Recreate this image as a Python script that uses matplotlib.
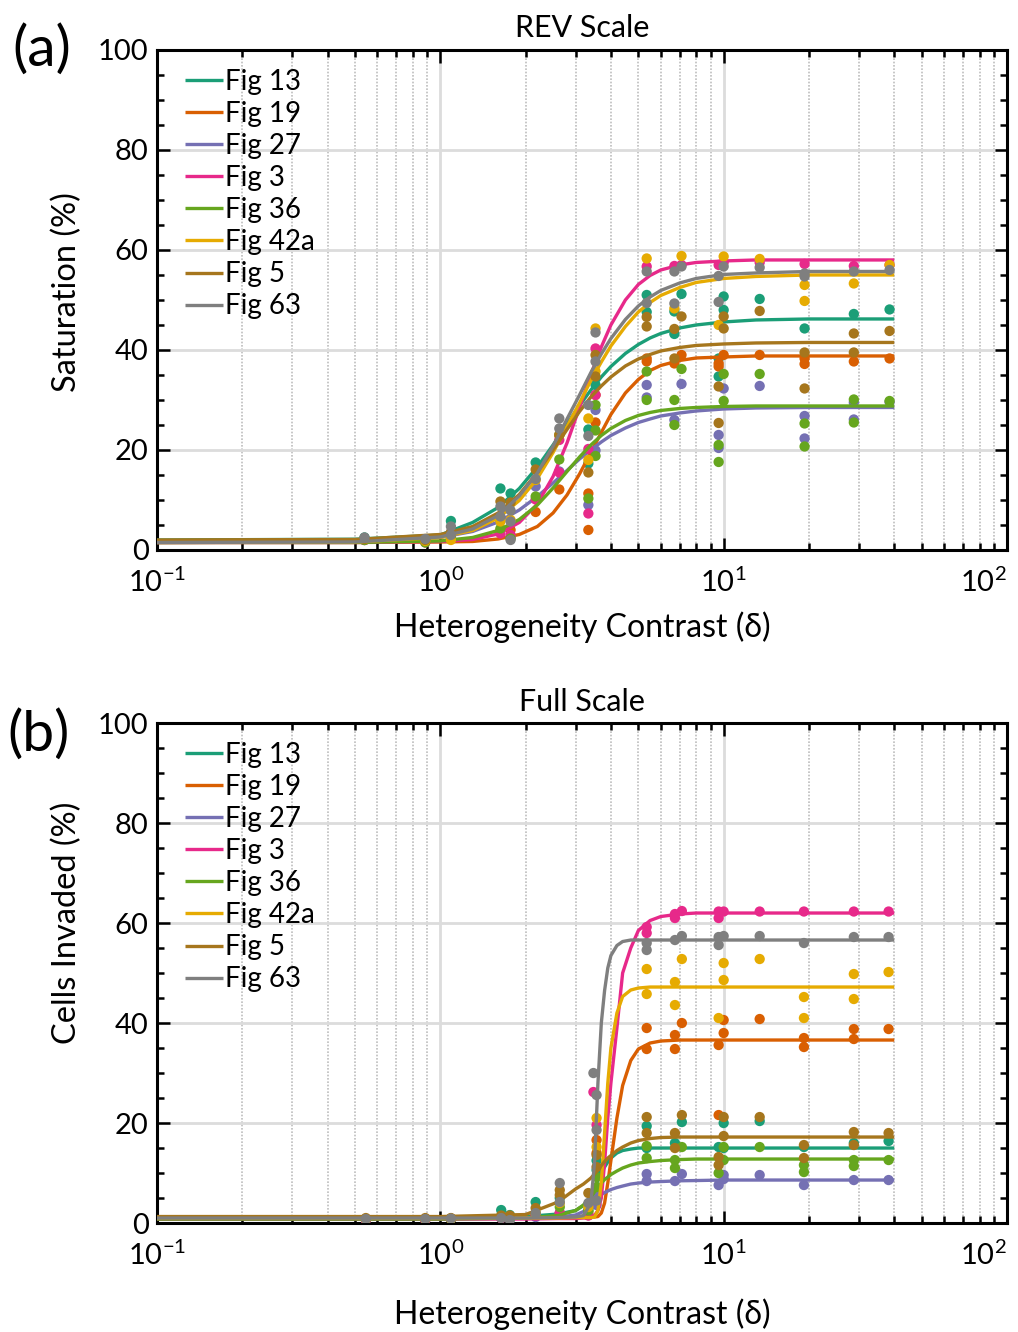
import numpy as np
import matplotlib
matplotlib.use("Agg")
import matplotlib.pyplot as plt
from matplotlib.ticker import LogLocator, MultipleLocator, NullFormatter

plt.rcParams['font.family'] = ['Lato', 'DejaVu Sans']
plt.rcParams['mathtext.default'] = 'regular'
plt.rcParams['axes.unicode_minus'] = False

LABELS = ["Fig 13", "Fig 19", "Fig 27", "Fig 3", "Fig 36", "Fig 42a", "Fig 5", "Fig 63"]
COLORS = ["#1b9e77", "#d95f02", "#7570b3", "#e7298a", "#66a61e", "#e6ab02", "#a6761d", "#7f7f7f"]

# ---- (a) REV scale: fitted curves sampled on a common delta grid ----
REV_CURVE_X = [0.1, 0.5, 1.0, 1.3, 1.6, 1.9, 2.2, 2.5, 2.8, 3.1, 3.4, 3.7, 4.0,
               4.5, 5.0, 5.5, 6.0, 7.0, 8.0, 10, 13, 20, 40]
REV_CURVES = {
    "Fig 13": [2.0, 2.15, 3.0, 5.5, 8.5, 12.3, 16.6, 21.0, 25.2, 28.9, 32.0, 34.6, 36.7,
               39.3, 41.1, 42.4, 43.3, 44.4, 45.0, 45.6, 46.0, 46.2, 46.2],
    "Fig 19": [1.5, 1.5, 1.6, 1.7, 2.2, 3.1, 4.7, 7.4, 11.0, 15.2, 19.5, 23.5, 27.1,
               31.4, 34.1, 35.9, 36.9, 37.9, 38.4, 38.6, 38.8, 38.8, 38.8],
    "Fig 27": [1.5, 1.6, 2.5, 3.7, 5.6, 8.0, 10.7, 13.4, 15.9, 18.2, 20.0, 21.6, 22.9,
               24.4, 25.5, 26.2, 26.8, 27.4, 27.8, 28.2, 28.4, 28.5, 28.5],
    "Fig 3": [1.5, 1.5, 1.7, 2.1, 3.2, 5.5, 9.2, 14.7, 21.4, 28.5, 35.1, 40.6, 45.0,
              50.0, 53.1, 54.9, 56.0, 57.0, 57.5, 57.8, 58.0, 58.0, 58.0],
    "Fig 36": [1.5, 1.5, 1.8, 2.5, 3.9, 6.1, 9.0, 12.4, 15.7, 18.6, 21.0, 22.9, 24.3,
               25.9, 26.9, 27.5, 27.9, 28.3, 28.5, 28.7, 28.8, 28.8, 28.8],
    "Fig 42a": [1.5, 1.6, 2.5, 3.9, 6.4, 9.9, 14.3, 19.5, 24.7, 29.4, 33.9, 37.6, 40.8,
                44.7, 47.6, 49.5, 50.9, 52.5, 53.5, 54.3, 54.7, 55.0, 55.0],
    "Fig 5": [2.0, 2.1, 3.1, 4.7, 7.4, 11.1, 15.5, 20.0, 24.1, 27.7, 30.6, 32.8, 34.6,
              36.8, 38.2, 39.1, 39.8, 40.5, 40.9, 41.2, 41.4, 41.5, 41.5],
    "Fig 63": [1.5, 1.6, 2.6, 4.2, 6.9, 10.8, 15.4, 20.8, 26.2, 31.0, 35.5, 39.2, 42.3,
               46.1, 48.8, 50.6, 51.9, 53.4, 54.3, 55.1, 55.4, 55.7, 55.7],
}

# ---- (a) REV scale: measured points (delta, saturation %) ----
REV_POINTS = {
    "Fig 13": [(0.54, 2.5), (0.885, 2.0), (1.09, 5.8), (1.63, 12.3), (1.77, 11.3), (2.17, 17.5),
               (2.63, 23.0), (3.33, 24.1), (3.33, 17.3), (3.53, 33.0), (5.35, 51.0), (5.35, 47.6),
               (6.7, 47.7), (6.7, 43.2), (7.1, 51.2), (9.6, 38.3), (9.6, 34.7), (10, 50.7),
               (10, 48.0), (13.4, 50.2), (19.3, 44.3), (28.8, 47.2), (38.5, 48.1)],
    "Fig 19": [(0.54, 2.0), (0.885, 1.8), (1.09, 2.2), (1.63, 4.0), (1.77, 4.0), (2.17, 7.6),
               (2.63, 12.1), (3.33, 11.3), (3.33, 4.0), (3.53, 31.0), (3.53, 25.5), (5.35, 38.3),
               (5.35, 37.7), (6.7, 37.3), (7.1, 39.0), (9.6, 37.3), (9.6, 36.7), (10, 39.0),
               (13.4, 39.0), (19.3, 38.3), (19.3, 37.2), (28.8, 37.7), (38.5, 38.3)],
    "Fig 27": [(0.54, 2.0), (0.885, 1.8), (1.09, 3.5), (1.63, 6.0), (1.77, 2.5), (2.17, 12.7),
               (2.63, 15.7), (3.33, 9.0), (3.53, 28.0), (3.53, 19.9), (5.35, 33.0), (5.35, 30.5),
               (6.7, 26.0), (7.1, 33.2), (9.6, 23.0), (9.6, 20.4), (10, 32.3), (13.4, 32.8),
               (19.3, 26.8), (19.3, 22.3), (28.8, 29.5), (28.8, 26.1), (38.5, 29.6)],
    "Fig 3": [(0.54, 2.0), (0.885, 1.5), (1.09, 2.5), (1.63, 3.3), (1.77, 3.0), (2.17, 10.1),
              (2.63, 22.0), (2.63, 15.5), (3.33, 20.2), (3.33, 7.3), (3.53, 40.3), (3.53, 31.0),
              (5.35, 56.7), (6.7, 56.8), (7.1, 57.0), (9.6, 57.0), (10, 57.5), (13.4, 57.5),
              (19.3, 57.2), (28.8, 56.8), (38.5, 57.0)],
    "Fig 36": [(0.54, 2.0), (0.885, 1.5), (1.09, 2.5), (1.63, 4.3), (1.77, 2.3), (2.17, 10.7),
               (2.63, 18.1), (3.33, 10.3), (3.53, 29.0), (3.53, 23.9), (3.53, 18.8), (5.35, 35.7),
               (5.35, 30.0), (6.7, 30.0), (6.7, 25.0), (7.1, 36.2), (9.6, 21.0), (9.6, 17.6),
               (10, 35.2), (10, 29.8), (13.4, 35.2), (19.3, 25.3), (19.3, 20.7), (28.8, 30.1),
               (28.8, 25.5), (38.5, 29.8)],
    "Fig 42a": [(0.54, 2.2), (0.885, 1.8), (1.09, 2.0), (1.63, 5.7), (1.77, 6.0), (2.17, 14.0),
                (2.63, 23.0), (3.33, 26.3), (3.33, 18.0), (3.53, 44.3), (3.53, 35.7), (5.35, 58.3),
                (6.7, 48.3), (7.1, 58.8), (9.6, 45.0), (10, 58.7), (13.4, 58.2), (19.3, 53.0),
                (19.3, 49.8), (28.8, 53.3), (38.5, 57.0)],
    "Fig 5": [(0.54, 2.2), (0.885, 2.0), (1.09, 3.5), (1.63, 9.7), (1.77, 9.5), (2.17, 16.1),
              (2.63, 23.0), (3.33, 15.5), (3.53, 39.0), (3.53, 34.7), (5.35, 46.6), (5.35, 44.7),
              (6.7, 44.2), (6.7, 38.3), (7.1, 46.7), (9.6, 32.7), (9.6, 25.4), (10, 46.7),
              (10, 44.3), (13.4, 47.8), (19.3, 39.5), (19.3, 32.3), (28.8, 43.3), (28.8, 39.5),
              (38.5, 43.8)],
    "Fig 63": [(0.54, 2.5), (0.885, 2.2), (1.09, 4.7), (1.09, 3.0), (1.63, 8.7), (1.63, 6.7),
               (1.77, 7.9), (1.77, 5.7), (1.77, 2.0), (2.17, 14.2), (2.63, 26.3), (2.63, 24.3),
               (3.33, 29.0), (3.33, 22.8), (3.53, 43.5), (3.53, 37.7), (5.35, 55.7), (5.35, 49.4),
               (6.7, 55.7), (6.7, 49.3), (7.1, 56.7), (9.6, 54.8), (9.6, 49.6), (10, 56.7),
               (13.4, 56.5), (19.3, 55.3), (19.3, 54.7), (28.8, 55.7), (38.5, 56.0)],
}

# ---- (b) Full scale: fitted curves ----
FULL_CURVE_X = [0.1, 1.0, 2.0, 2.6, 3.0, 3.2, 3.4, 3.5, 3.6, 3.7, 3.8, 3.9, 4.0,
                4.2, 4.4, 4.7, 5.0, 5.5, 6.0, 7.0, 8.0, 10, 15, 40]
FULL_CURVES = {
    "Fig 13": [1.0, 1.1, 1.3, 1.8, 2.5, 3.5, 5.5, 7.0, 8.5, 10.0, 11.2, 12.2, 13.0,
               14.0, 14.5, 14.8, 15.0, 15.0, 15.0, 15.0, 15.0, 15.0, 15.0, 15.0],
    "Fig 19": [1.0, 1.0, 1.0, 1.1, 1.1, 1.2, 1.2, 1.2, 1.3, 2.0, 4.0, 8.0, 12.5,
               21.0, 27.5, 32.5, 34.8, 36.0, 36.4, 36.6, 36.6, 36.6, 36.6, 36.6],
    "Fig 27": [0.8, 0.8, 1.0, 1.2, 1.6, 2.3, 3.6, 4.5, 5.2, 5.7, 6.1, 6.4, 6.7,
               7.1, 7.4, 7.8, 8.0, 8.2, 8.3, 8.45, 8.5, 8.6, 8.6, 8.6],
    "Fig 3": [0.8, 0.8, 0.8, 0.9, 0.9, 1.0, 1.0, 1.5, 2.5, 5.0, 12.0, 21.0, 28.0,
              39.0, 50.0, 55.0, 58.5, 60.5, 61.3, 61.8, 62.0, 62.0, 62.0, 62.0],
    "Fig 36": [0.8, 0.8, 1.0, 1.5, 2.5, 3.6, 5.2, 6.2, 7.2, 8.0, 8.7, 9.2, 9.7,
               10.4, 11.0, 11.6, 12.0, 12.3, 12.5, 12.7, 12.8, 12.8, 12.8, 12.8],
    "Fig 42a": [1.0, 1.0, 1.0, 1.0, 1.1, 1.1, 1.1, 1.2, 2.5, 8.0, 18.0, 28.0, 35.0,
                42.0, 45.3, 46.6, 47.0, 47.2, 47.2, 47.2, 47.2, 47.2, 47.2, 47.2],
    "Fig 5": [1.3, 1.3, 1.7, 4.2, 6.8, 7.8, 9.0, 9.8, 10.7, 11.5, 12.3, 13.0, 13.5,
              14.5, 15.2, 16.0, 16.5, 16.9, 17.1, 17.2, 17.2, 17.2, 17.2, 17.2],
    "Fig 63": [1.0, 1.0, 1.0, 1.1, 1.2, 1.5, 4.0, 12.0, 28.0, 40.0, 46.5, 51.0, 53.5,
               55.5, 56.3, 56.6, 56.6, 56.6, 56.6, 56.6, 56.6, 56.6, 56.6, 56.6],
}

# ---- (b) Full scale: measured points (delta, cells invaded %) ----
FULL_POINTS = {
    "Fig 13": [(0.546, 0.8), (0.885, 0.8), (1.09, 0.8), (1.64, 2.6), (1.76, 1.6), (2.17, 4.2),
               (2.64, 5.0), (3.33, 2.5), (3.56, 10.6), (3.56, 12.5), (5.35, 19.4), (5.35, 15.0),
               (6.73, 16.0), (7.12, 20.2), (9.6, 15.2), (10, 20.0), (10, 15.0), (13.4, 20.4),
               (19.2, 15.2), (28.8, 16.0), (38.2, 16.4)],
    "Fig 19": [(0.546, 0.8), (0.885, 0.8), (1.09, 0.9), (1.64, 1.0), (1.76, 1.0), (2.17, 1.5),
               (2.64, 2.0), (3.33, 2.0), (3.56, 16.6), (3.56, 14.0), (5.35, 39.0), (5.35, 34.8),
               (6.73, 37.6), (6.73, 34.8), (7.12, 40.0), (9.6, 35.6), (9.6, 21.6), (10, 40.6),
               (10, 38.0), (13.4, 40.8), (19.2, 37.0), (19.2, 35.2), (28.8, 38.8), (28.8, 36.8),
               (38.2, 38.8)],
    "Fig 27": [(0.546, 0.6), (0.885, 0.6), (1.09, 0.8), (1.64, 1.0), (1.76, 1.0), (2.17, 1.2),
               (2.64, 2.0), (3.33, 1.6), (3.56, 3.6), (3.56, 5.5), (5.35, 9.8), (5.35, 8.4),
               (6.73, 8.4), (7.12, 9.8), (9.6, 7.6), (10, 9.6), (10, 8.8), (13.4, 9.6),
               (19.2, 7.6), (28.8, 8.6), (38.2, 8.6)],
    "Fig 3": [(0.546, 0.6), (0.885, 0.6), (1.09, 0.8), (1.64, 1.0), (1.76, 1.0), (2.17, 1.5),
              (2.64, 2.0), (3.33, 1.5), (3.47, 26.2), (3.56, 19.6), (5.35, 59.2), (5.35, 58.0),
              (6.73, 61.8), (6.73, 61.0), (7.12, 62.4), (9.6, 62.3), (9.6, 61.0), (10, 62.3),
              (13.4, 62.3), (19.2, 62.3), (28.8, 62.3), (38.2, 62.3)],
    "Fig 36": [(0.546, 0.8), (0.885, 0.8), (1.09, 0.8), (1.64, 1.2), (1.76, 1.2), (2.17, 2.0),
               (2.64, 3.2), (3.33, 2.5), (3.56, 9.2), (3.56, 7.2), (5.35, 15.4), (5.35, 13.0),
               (6.73, 12.6), (6.73, 11.0), (7.12, 15.2), (9.6, 10.0), (10, 15.2), (10, 12.6),
               (13.4, 15.2), (19.2, 11.6), (19.2, 10.2), (28.8, 12.6), (28.8, 11.4), (38.2, 12.6)],
    "Fig 42a": [(0.546, 0.8), (0.885, 0.8), (1.09, 0.9), (1.64, 1.2), (1.76, 1.2), (2.17, 2.0),
                (2.64, 4.0), (3.33, 3.2), (3.56, 21.0), (3.56, 15.2), (5.35, 50.8), (5.35, 45.8),
                (6.73, 48.2), (6.73, 43.6), (7.12, 52.8), (9.6, 41.0), (10, 52.0), (10, 48.6),
                (13.4, 52.8), (19.2, 45.2), (19.2, 41.0), (28.8, 49.8), (28.8, 44.8), (38.2, 50.2)],
    "Fig 5": [(0.546, 1.0), (0.885, 1.0), (1.09, 1.0), (1.64, 1.5), (1.76, 1.5), (2.17, 3.0),
              (2.64, 6.6), (2.64, 5.6), (3.33, 6.0), (3.56, 13.6), (3.56, 11.2), (5.35, 21.2),
              (5.35, 18.0), (6.73, 18.0), (6.73, 15.0), (7.12, 21.6), (9.6, 13.2), (9.6, 11.6),
              (10, 21.2), (10, 17.4), (13.4, 21.2), (19.2, 15.6), (19.2, 13.0), (28.8, 18.2),
              (28.8, 15.6), (38.2, 18.0)],
    "Fig 63": [(0.546, 0.8), (0.885, 0.8), (1.09, 0.9), (1.64, 1.0), (1.76, 0.6), (2.17, 2.0),
               (2.64, 8.0), (2.64, 4.2), (3.33, 4.0), (3.47, 30.0), (3.56, 25.6), (3.56, 18.6),
               (3.56, 4.5), (5.35, 56.0), (5.35, 54.6), (6.73, 56.6), (7.12, 57.4), (9.6, 57.2),
               (9.6, 55.6), (10, 57.4), (13.4, 57.4), (19.2, 56.0), (28.8, 57.2), (38.2, 57.2)],
}


def style_axes(ax, ylabel, title, xlabel_pad, ylabel_y):
    ax.set_xscale('log')
    ax.set_xlim(0.1, 100)
    ax.set_ylim(0, 100)
    ax.xaxis.set_major_locator(LogLocator(base=10, numticks=10))
    ax.xaxis.set_minor_locator(LogLocator(base=10, subs=np.arange(2, 10), numticks=10))
    ax.xaxis.set_minor_formatter(NullFormatter())
    ax.yaxis.set_major_locator(MultipleLocator(20))
    ax.yaxis.set_minor_locator(MultipleLocator(5))
    ax.grid(True, which='major', color='#dcdcdc', linewidth=2.0, zorder=0)
    ax.grid(True, which='minor', axis='x', color='#bdbdbd', linewidth=1.2,
            linestyle=(0, (1, 1)), zorder=0)
    ax.set_axisbelow(True)
    ax.tick_params(which='both', direction='in', top=True, right=True,
                   labelsize=21, width=1.8)
    ax.tick_params(axis='x', which='major', pad=13)
    ax.tick_params(axis='y', which='major', pad=6)
    ax.tick_params(which='major', length=9)
    ax.tick_params(which='minor', length=5)
    for sp in ax.spines.values():
        sp.set_linewidth(2.2)
    ax.set_xlabel('Heterogeneity Contrast (δ)', fontsize=23, labelpad=xlabel_pad)
    ax.set_ylabel(ylabel, fontsize=23.5)
    ax.yaxis.set_label_coords(-0.088, ylabel_y)
    ax.set_title(title, fontsize=22, pad=9)


def draw_panel(ax, curve_x, curves, points):
    for i, (label, color) in enumerate(zip(LABELS, COLORS)):
        px, py = zip(*points[label])
        ax.scatter(px, py, s=55, color=color, edgecolors='none', zorder=3 + i)
        ax.plot(curve_x, curves[label], color=color, linewidth=2.4, label=label,
                zorder=3 + i, solid_capstyle='butt')
    ax.legend(loc='upper left', frameon=False, fontsize=20, handlelength=1.35,
              handletextpad=0.08, labelspacing=0.22, borderaxespad=0.0,
              bbox_to_anchor=(0.02, 0.985))


def fix_last_label(fig, ax):
    fig.canvas.draw()
    for lbl in ax.get_xticklabels():
        if abs(lbl.get_position()[0] - 100) < 1e-6:
            lbl.set_horizontalalignment('right')


fig = plt.figure(figsize=(10.18, 13.32), dpi=100)
ax_a = fig.add_axes([0.1542, 0.5871, 0.835, 0.3754])
ax_b = fig.add_axes([0.1542, 0.0818, 0.835, 0.3754])

draw_panel(ax_a, REV_CURVE_X, REV_CURVES, REV_POINTS)
style_axes(ax_a, 'Saturation (%)', 'REV Scale', 10, 0.516)

draw_panel(ax_b, FULL_CURVE_X, FULL_CURVES, FULL_POINTS)
style_axes(ax_b, 'Cells Invaded (%)', 'Full Scale', 20, 0.60)

fix_last_label(fig, ax_a)
fix_last_label(fig, ax_b)

fig.text(0.041, 0.963, '(a)', fontsize=41, ha='center', va='center')
fig.text(0.038, 0.448, '(b)', fontsize=41, ha='center', va='center')

fig.savefig('out.png', dpi=100, facecolor='white')
